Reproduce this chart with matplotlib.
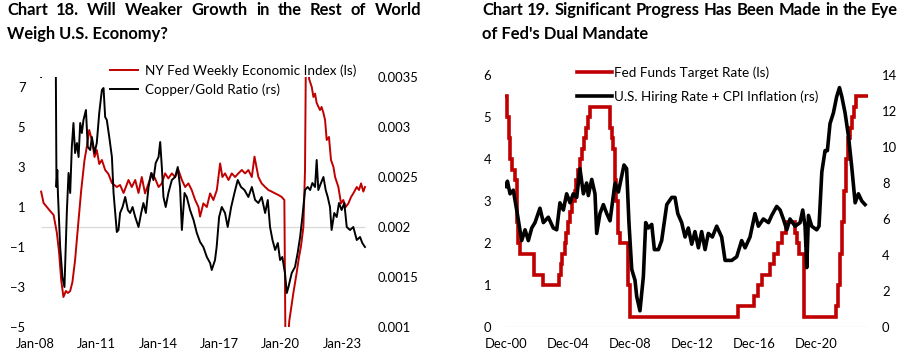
import matplotlib
matplotlib.use('Agg')
import matplotlib.pyplot as plt

plt.rcParams['font.family'] = ['Lato', 'DejaVu Sans']

RED = '#C00000'
GRID = '#D9D9D9'

# ---------------- Chart 18 data (weekly) ----------------
wei_t = [2008.29, 2008.41, 2008.57, 2008.73, 2008.90, 2009.06, 2009.17, 2009.27, 2009.38, 2009.50,
         2009.60, 2009.71, 2009.82, 2009.95, 2010.12, 2010.25, 2010.41, 2010.52, 2010.64, 2010.77,
         2010.90, 2011.01, 2011.13, 2011.26, 2011.42, 2011.58, 2011.75, 2011.99, 2012.15, 2012.32,
         2012.56, 2012.72, 2012.89, 2013.05, 2013.21, 2013.37, 2013.54, 2013.70, 2013.86, 2014.03,
         2014.19, 2014.35, 2014.51, 2014.68, 2014.84, 2015.00, 2015.17, 2015.33, 2015.49, 2015.65,
         2015.82, 2015.98, 2016.06, 2016.22, 2016.39, 2016.55, 2016.71, 2016.88, 2017.04, 2017.15,
         2017.28, 2017.45, 2017.61, 2017.77, 2017.93, 2018.10, 2018.26, 2018.42, 2018.59, 2018.72,
         2018.91, 2019.07, 2019.24, 2019.40, 2019.56, 2019.73, 2019.89, 2020.05, 2020.18, 2020.25,
         2020.30, 2020.36, 2020.42, 2020.62, 2020.78, 2020.90, 2020.99, 2021.11, 2021.19, 2021.24,
         2021.30, 2021.39, 2021.52, 2021.60, 2021.68, 2021.76, 2021.92, 2022.00, 2022.09, 2022.17,
         2022.25, 2022.36, 2022.46, 2022.58, 2022.66, 2022.82, 2022.95, 2023.06, 2023.18, 2023.31,
         2023.44, 2023.55, 2023.72, 2023.83, 2023.93, 2024.04, 2024.12]
wei_v = [1.77, 1.2, 1.0, 0.8, 0.6, -0.3, -1.3, -2.65, -3.5, -3.2,
         -3.3, -3.2, -2.75, -1.65, 0.35, 1.85, 3.35, 4.0, 4.85, 4.35,
         3.5, 3.85, 3.15, 3.35, 2.85, 2.65, 2.2, 2.0, 2.1, 1.7,
         2.35, 2.0, 2.35, 1.7, 2.5, 1.68, 2.18, 2.68, 2.43, 2.0,
         2.18, 2.68, 2.43, 2.68, 2.5, 2.85, 2.35, 2.0, 2.18, 1.85,
         1.35, 1.0, 0.52, 1.18, 1.0, 1.68, 1.35, 1.85, 3.18, 2.5,
         2.68, 2.35, 2.68, 2.5, 2.68, 2.85, 2.68, 2.85, 2.5, 3.52,
         2.5, 2.18, 2.0, 1.85, 1.77, 1.68, 1.6, 1.5, 1.35, -8.0,
         -11.0, -5.6, -4.7, -3.3, -2.3, -1.48, -0.98, 0.0, 2.85, 9.5,
         10.5, 7.4, 7.0, 6.5, 6.67, 6.2, 5.85, 6.0, 5.7, 5.35,
         4.35, 4.5, 3.35, 3.0, 2.5, 2.0, 1.18, 1.35, 1.0, 1.18,
         1.5, 1.68, 2.0, 1.85, 2.18, 1.77, 2.0]

cg_t = [2008.29, 2008.45, 2008.70, 2008.95, 2009.01, 2009.04, 2009.08, 2009.11, 2009.22, 2009.33,
        2009.43, 2009.55, 2009.63, 2009.71, 2009.79, 2009.87, 2009.95, 2010.04, 2010.12, 2010.20,
        2010.28, 2010.36, 2010.48, 2010.57, 2010.69, 2010.77, 2010.90, 2011.01, 2011.13, 2011.26,
        2011.34, 2011.42, 2011.50, 2011.62, 2011.75, 2011.83, 2011.91, 2011.99, 2012.07, 2012.15,
        2012.27, 2012.40, 2012.53, 2012.64, 2012.76, 2012.89, 2013.05, 2013.18, 2013.29, 2013.41,
        2013.54, 2013.67, 2013.78, 2013.89, 2014.03, 2014.11, 2014.19, 2014.27, 2014.38, 2014.51,
        2014.68, 2014.84, 2014.97, 2015.08, 2015.17, 2015.30, 2015.41, 2015.57, 2015.74, 2015.90,
        2016.06, 2016.22, 2016.39, 2016.55, 2016.63, 2016.79, 2016.87, 2016.99, 2017.12, 2017.28,
        2017.41, 2017.58, 2017.74, 2017.90, 2018.06, 2018.23, 2018.42, 2018.59, 2018.75, 2018.91,
        2019.07, 2019.24, 2019.37, 2019.48, 2019.60, 2019.73, 2019.86, 2019.97, 2020.08, 2020.21,
        2020.30, 2020.38, 2020.54, 2020.70, 2020.83, 2020.95, 2021.06, 2021.19, 2021.32, 2021.44,
        2021.55, 2021.68, 2021.76, 2021.84, 2021.97, 2022.09, 2022.20, 2022.30, 2022.41, 2022.49,
        2022.62, 2022.74, 2022.85, 2022.98, 2023.11, 2023.23, 2023.39, 2023.55, 2023.72, 2023.88,
        2023.99, 2024.12]
cg_v = [0.00350, 0.00375, 0.00380, 0.00370, 0.00350, 0.00240, 0.00257, 0.00234, 0.00180, 0.00150,
        0.00140, 0.00217, 0.00254, 0.00234, 0.00280, 0.00304, 0.00274, 0.00284, 0.00270, 0.00304,
        0.00294, 0.00307, 0.00317, 0.00280, 0.00277, 0.00290, 0.00274, 0.00284, 0.00314, 0.00337,
        0.00339, 0.00310, 0.00307, 0.00290, 0.00270, 0.00234, 0.00214, 0.00195, 0.00197, 0.00214,
        0.00220, 0.00230, 0.00217, 0.00214, 0.00220, 0.00210, 0.00200, 0.00214, 0.00224, 0.00214,
        0.00240, 0.00254, 0.00247, 0.00264, 0.00270, 0.00285, 0.00260, 0.00230, 0.00220, 0.00234,
        0.00247, 0.00250, 0.00260, 0.00240, 0.00197, 0.00234, 0.00230, 0.00217, 0.00207, 0.00194,
        0.00185, 0.00180, 0.00170, 0.00164, 0.00157, 0.00167, 0.00180, 0.00210, 0.00220, 0.00214,
        0.00200, 0.00220, 0.00234, 0.00247, 0.00240, 0.00237, 0.00230, 0.00240, 0.00227, 0.00224,
        0.00230, 0.00214, 0.00227, 0.00200, 0.00187, 0.00177, 0.00184, 0.00167, 0.00170, 0.00154,
        0.00134, 0.00140, 0.00154, 0.00160, 0.00174, 0.00190, 0.00210, 0.00237, 0.00240, 0.00237,
        0.00244, 0.00240, 0.00267, 0.00237, 0.00244, 0.00250, 0.00237, 0.00230, 0.00220, 0.00197,
        0.00214, 0.00210, 0.00224, 0.00217, 0.00224, 0.00200, 0.00197, 0.00200, 0.00187, 0.00190,
        0.00184, 0.00180]

left_xticks = [2008, 2011, 2014, 2017, 2020, 2023]
left_xlabels = ['Jan-08', 'Jan-11', 'Jan-14', 'Jan-17', 'Jan-20', 'Jan-23']
left_yticks = [-5, -3, -1, 1, 3, 5, 7]
right_yticks = [0.001, 0.0015, 0.002, 0.0025, 0.003, 0.0035]
right_ylabels = ['0.001', '0.0015', '0.002', '0.0025', '0.003', '0.0035']

# ---------------- Chart 19 data ----------------
ff_t = [2000.92, 2001.00, 2001.10, 2001.20, 2001.30, 2001.50, 2001.60, 2001.66, 2001.72, 2001.80,
        2002.75, 2003.30, 2004.33, 2004.45, 2004.56, 2004.70, 2004.80, 2004.93, 2005.06, 2005.18,
        2005.34, 2005.44, 2005.56, 2005.67, 2005.79, 2005.92, 2006.07, 2006.20, 2006.34, 2007.63,
        2007.75, 2007.85, 2007.95, 2008.00, 2008.15, 2008.28, 2008.76, 2008.82, 2008.92, 2015.90,
        2016.90, 2017.20, 2017.45, 2017.95, 2018.22, 2018.45, 2018.74, 2018.96, 2019.58, 2019.71,
        2019.83, 2020.12, 2020.17, 2022.20, 2022.34, 2022.46, 2022.57, 2022.72, 2022.84, 2022.95,
        2023.09, 2023.22, 2023.34, 2023.50, 2024.19]
ff_v = [5.5, 5.0, 4.5, 4.0, 3.75, 3.5, 3.0, 2.5, 2.0, 1.75,
        1.25, 1.0, 1.25, 1.5, 1.75, 2.0, 2.25, 2.5, 2.75, 3.0,
        3.25, 3.5, 3.75, 4.0, 4.25, 4.5, 4.75, 5.0, 5.25, 4.75,
        4.5, 4.25, 3.5, 3.0, 2.25, 2.0, 1.5, 1.0, 0.25, 0.5,
        0.75, 1.0, 1.25, 1.5, 1.75, 2.0, 2.25, 2.5, 2.25, 2.0,
        1.75, 1.25, 0.25, 0.5, 1.0, 1.75, 2.5, 3.25, 4.0, 4.5,
        4.75, 5.0, 5.25, 5.5, 5.5]

hc_t = [2000.92, 2001.01, 2001.18, 2001.39, 2001.61, 2001.93, 2002.15, 2002.36, 2002.58, 2002.79,
        2003.11, 2003.33, 2003.65, 2003.97, 2004.19, 2004.40, 2004.62, 2004.83, 2005.05, 2005.26,
        2005.48, 2005.69, 2005.91, 2006.12, 2006.23, 2006.45, 2006.66, 2006.77, 2006.98, 2007.20,
        2007.42, 2007.63, 2007.95, 2008.17, 2008.53, 2008.70, 2008.85, 2009.03, 2009.24, 2009.35,
        2009.56, 2009.78, 2009.93, 2010.10, 2010.32, 2010.49, 2010.75, 2010.96, 2011.29, 2011.61,
        2011.82, 2012.00, 2012.25, 2012.47, 2012.68, 2012.90, 2013.11, 2013.33, 2013.54, 2013.76,
        2013.97, 2014.23, 2014.51, 2014.83, 2015.05, 2015.48, 2015.80, 2016.12, 2016.34, 2016.66,
        2016.98, 2017.20, 2017.52, 2017.85, 2018.06, 2018.38, 2018.60, 2018.81, 2019.03, 2019.24,
        2019.57, 2019.89, 2020.06, 2020.21, 2020.32, 2020.43, 2020.64, 2020.96, 2021.11, 2021.29,
        2021.50, 2021.65, 2021.82, 2022.04, 2022.25, 2022.43, 2022.58, 2022.79, 2023.01, 2023.22,
        2023.44, 2023.65, 2023.87, 2024.08]
hc_v = [7.8, 8.1, 7.4, 7.6, 6.5, 4.8, 5.4, 4.8, 5.5, 5.8,
        6.6, 5.8, 6.1, 5.5, 5.4, 6.9, 6.5, 7.4, 6.9, 7.4,
        7.2, 8.8, 7.4, 8.0, 7.3, 8.2, 7.4, 5.2, 6.3, 6.8,
        6.3, 5.9, 8.0, 7.5, 9.0, 8.8, 5.8, 3.2, 2.6, 1.7,
        0.9, 2.8, 5.8, 5.5, 5.7, 4.3, 4.3, 4.8, 6.8, 7.2,
        7.2, 6.3, 5.8, 5.0, 5.5, 4.6, 5.3, 4.4, 5.3, 4.3,
        5.2, 5.0, 5.6, 5.0, 3.7, 3.7, 3.9, 4.8, 4.4, 5.0,
        6.3, 5.6, 6.0, 5.8, 6.2, 6.7, 6.5, 6.0, 5.4, 6.0,
        5.6, 5.8, 6.5, 5.6, 3.3, 6.2, 5.6, 5.4, 5.6, 8.6,
        9.8, 9.8, 11.3, 11.9, 12.8, 13.3, 12.8, 11.9, 10.6, 8.9,
        6.9, 7.4, 7.0, 6.8]

r_xticks = [2000.92, 2004.92, 2008.92, 2012.92, 2016.92, 2020.92]
r_xlabels = ['Dec-00', 'Dec-04', 'Dec-08', 'Dec-12', 'Dec-16', 'Dec-20']
r_yticks_l = [0, 1, 2, 3, 4, 5, 6]
r_yticks_r = [0, 2, 4, 6, 8, 10, 12, 14]

W, H = 909, 354
fig = plt.figure(figsize=(W / 100, H / 100), dpi=100)


def add_ax(x0, y_top, x1, y_bot):
    return fig.add_axes([x0 / W, 1 - y_bot / H, (x1 - x0) / W, (y_bot - y_top) / H])


def justify(text, x0, x1, y, **kw):
    # spread words so the line fills x0..x1 (pixels)
    words = text.split()
    objs = [fig.text(x0 / W, 1 - y / H, w, va='baseline', **kw) for w in words]
    r = fig.canvas.get_renderer()
    widths = [o.get_window_extent(r).width for o in objs]
    gap = (x1 - x0 - sum(widths)) / (len(words) - 1)
    x = x0
    for o, w in zip(objs, widths):
        o.set_x(x / W)
        x += w + gap


def clean(ax):
    for s in ax.spines.values():
        s.set_visible(False)
    ax.tick_params(length=0, labelsize=9.4)


tfont = dict(fontsize=11.9, fontweight='bold')
lfont = 9.7

# ---------------- Chart 18 ----------------
justify('Chart 18. Will Weaker Growth in the Rest of World', 7, 421, 15, **tfont)
fig.text(7 / W, 1 - 39 / H, 'Weigh U.S. Economy?', va='baseline', **tfont)

ax1 = add_ax(35, 77, 367, 327)
clean(ax1)
ax1.hlines(0, wei_t[0], wei_t[-1], color=GRID, lw=0.9)
l1, = ax1.plot(wei_t, wei_v, color=RED, lw=1.4, label='NY Fed Weekly Economic Index (ls)')
ax1.set_xlim(2007.99, 2024.22)
ax1.set_ylim(-5, 7.5)
ax1.set_yticks(left_yticks)
ax1.set_xticks(left_xticks)
ax1.set_xticklabels(left_xlabels)
ax1.tick_params(axis='y', pad=7)
ax1.tick_params(axis='x', pad=8)

ax1b = ax1.twinx()
clean(ax1b)
l2, = ax1b.plot(cg_t, cg_v, color='black', lw=1.4, label='Copper/Gold Ratio (rs)')
ax1b.set_ylim(0.001, 0.0035)
ax1b.set_yticks(right_yticks)
ax1b.set_yticklabels(right_ylabels)
ax1b.tick_params(axis='y', pad=8)
ax1b.legend(handles=[l1, l2], loc='upper left', bbox_to_anchor=(110 / W, 1 - 64 / H),
            bbox_transform=fig.transFigure, frameon=False, fontsize=lfont,
            handlelength=2.1, handletextpad=0.5, labelspacing=0.5,
            borderpad=0, borderaxespad=0)

# ---------------- Chart 19 ----------------
justify('Chart 19. Significant Progress Has Been Made in the Eye', 482, 898, 15, **tfont)
fig.text(482 / W, 1 - 39 / H, "of Fed's Dual Mandate", va='baseline', **tfont)

ax2 = add_ax(505, 75, 868, 327)
clean(ax2)
ax2.axhline(0, color=GRID, lw=0.9, zorder=0)
r1, = ax2.plot(ff_t, ff_v, color=RED, lw=2.6, drawstyle='steps-post',
               solid_joinstyle='miter', label='Fed Funds Target Rate (ls)')
ax2.set_xlim(2000.855, 2024.27)
ax2.set_ylim(0, 6)
ax2.set_yticks(r_yticks_l)
ax2.set_xticks(r_xticks)
ax2.set_xticklabels(r_xlabels)
ax2.tick_params(axis='y', pad=10)
ax2.tick_params(axis='x', pad=8)

ax2b = ax2.twinx()
clean(ax2b)
r2, = ax2b.plot(hc_t, hc_v, color='black', lw=2.6, label='U.S. Hiring Rate + CPI Inflation (rs)')
ax2b.set_ylim(0, 14)
ax2b.set_yticks(r_yticks_r)
ax2b.tick_params(axis='y', pad=10)
ax2b.legend(handles=[r1, r2], loc='upper left', bbox_to_anchor=(577 / W, 1 - 66 / H),
            bbox_transform=fig.transFigure, frameon=False, fontsize=lfont,
            handlelength=2.6, handletextpad=0.15, labelspacing=0.85,
            borderpad=0, borderaxespad=0)

fig.savefig('out.png', dpi=100)
